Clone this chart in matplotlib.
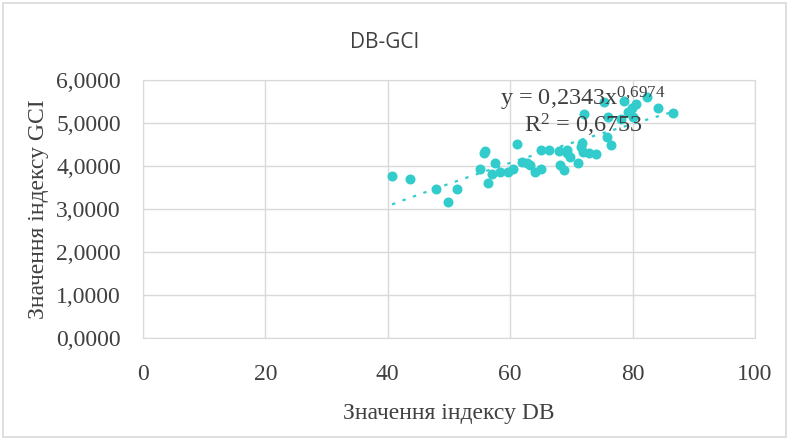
import matplotlib.pyplot as plt
import numpy as np
from matplotlib.patches import Rectangle

# values
db = [40.7, 43.6, 47.9, 49.9, 51.3, 55.1, 55.7, 55.9, 56.3, 57.0, 57.5, 58.4,
      59.7, 60.5, 61.1, 61.9, 62.7, 63.3, 64.1, 65.0, 65.1, 66.4, 67.9, 68.1,
      68.8, 69.2, 69.3, 69.8, 71.1, 71.5, 71.8, 71.9, 72.8, 74.0, 75.8, 76.4,
      72.0, 75.4, 76.0, 78.1, 78.6, 79.3, 79.9, 80.0, 80.6, 82.4, 84.1, 86.6]
gci = [3.76, 3.70, 3.46, 3.16, 3.46, 3.93, 4.31, 4.36, 3.60, 3.81, 4.06, 3.87,
       3.87, 3.92, 4.51, 4.10, 4.06, 4.02, 3.87, 4.37, 3.92, 4.37, 4.35, 4.02,
       3.91, 4.37, 4.30, 4.22, 4.06, 4.45, 4.53, 4.33, 4.31, 4.27, 4.68, 4.49,
       5.20, 5.48, 5.13, 5.09, 5.51, 5.26, 5.34, 5.13, 5.44, 5.61, 5.34, 5.23]

# power trendline as printed on the chart
coef_a = 0.2343
coef_b = 0.6974
r2 = 0.6753

x_ticks = [0, 20, 40, 60, 80, 100]
y_ticks = [0, 1, 2, 3, 4, 5, 6]

title = "DB-GCI"
x_label = "Значення індексу DB"
y_label = "Значення індексу GCI"

teal = "#33CCCC"
grid_c = "#D9D9D9"
text_c = "#404040"
serif = "Liberation Serif"

plt.rcParams["mathtext.fontset"] = "custom"
plt.rcParams["mathtext.rm"] = serif
plt.rcParams["mathtext.it"] = serif

fig = plt.figure(figsize=(7.89, 4.40), dpi=100)
fig.patches.append(Rectangle((3 / 789, 3 / 440), 783 / 789, 434 / 440,
                             transform=fig.transFigure, fill=False,
                             edgecolor=grid_c, lw=1.2))
ax = fig.add_axes([143 / 789, 1 - 338 / 440, 612 / 789, 258 / 440])

ax.scatter(db, gci, s=52, color=teal, zorder=3, linewidths=0)

xs = np.linspace(min(db), max(db), 100)
ax.plot(xs, coef_a * xs ** coef_b, color=teal, lw=1.6,
        linestyle=(0, (1.5, 3.5)), zorder=2)

ax.set_xlim(0, 100)
ax.set_ylim(0, 6)
ax.set_xticks(x_ticks)
ax.set_yticks(y_ticks)
ax.set_xticklabels([str(v) for v in x_ticks])
ax.set_yticklabels([f"{v:.4f}".replace(".", ",") for v in y_ticks])
ax.grid(True, color=grid_c, lw=1)
ax.set_axisbelow(True)
for sp in ax.spines.values():
    sp.set_color(grid_c)
ax.tick_params(length=0, labelsize=17, labelcolor=text_c)
ax.tick_params(axis="x", pad=19)
ax.tick_params(axis="y", pad=16)
for lab in ax.get_xticklabels() + ax.get_yticklabels():
    lab.set_fontfamily(serif)

ax.set_xlabel(x_label, fontsize=17, family=serif, color=text_c, labelpad=13)
ax.set_ylabel(y_label, fontsize=17, family=serif, color=text_c, labelpad=5)

fig.text(385 / 789, 1 - 42 / 440, title, ha="center", va="center",
         fontsize=15, family="Open Sans", color=text_c)

eq = f"y = {coef_a:.4f}x".replace(".", ",")
exp_s = f"{coef_b:.4f}".replace(".", "{,}")
ax.text(58.3, 5.4, eq + "$^{\\mathrm{" + exp_s + "}}$",
        fontsize=17.5, family=serif, color=text_c, zorder=4)
ax.text(62.3, 4.78, "R$^{\\mathrm{2}}$ = " + f"{r2:.4f}".replace(".", ","),
        fontsize=17.5, family=serif, color=text_c, zorder=4)

fig.savefig("out.png", dpi=100)
